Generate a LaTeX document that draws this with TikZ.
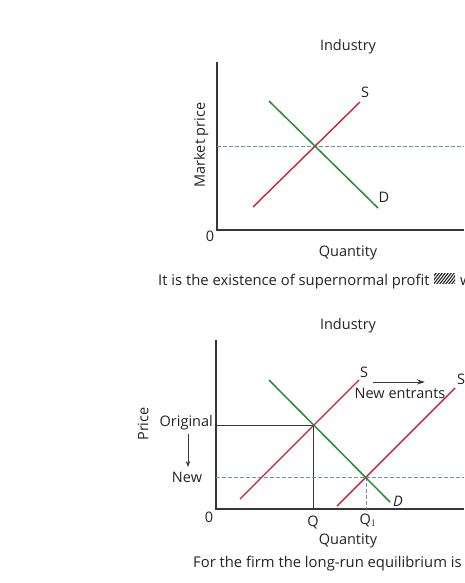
\documentclass[tikz,border=0pt]{standalone}
\usepackage{fontspec}
\setmainfont{Open Sans}
\usetikzlibrary{arrows.meta}
\definecolor{sred}{RGB}{200,35,50}
\definecolor{dgreen}{RGB}{35,140,55}
\definecolor{dashc}{RGB}{110,150,170}
\definecolor{axisc}{RGB}{55,55,55}
\definecolor{txt}{RGB}{35,35,35}
\begin{document}
\begin{tikzpicture}[x=1pt,y=-1pt,
  font=\fontsize{14.5}{16}\selectfont,
  axis/.style={axisc, line width=1.2pt},
  supply/.style={sred, line width=1.4pt},
  demand/.style={dgreen, line width=1.5pt},
  guide/.style={dashc, dash pattern=on 3.5pt off 2.5pt, line width=0.9pt},
  lbl/.style={inner sep=0pt, text=txt},
  caption/.style={lbl, anchor=base west, font=\fontsize{14.8}{16}\selectfont}]
\useasboundingbox (0,0) rectangle (464,583);
% ---------- top diagram ----------
\node[lbl] (ind1) at (348,47) {Industry};
\coordinate (yt1) at (217,62);
\coordinate (o1) at (217,230);
\coordinate (xr1) at (464,230);
\draw[axis] (yt1) -- (o1) -- (xr1);
\node[lbl] (zero1) at (210,236) {0};
\node[lbl, rotate=90] (mp) at (201,145) {Market price};
\coordinate (s1a) at (253,207);
\coordinate (s1b) at (360,102);
\coordinate (d1a) at (269,101);
\coordinate (d1b) at (378,208);
\coordinate (p1l) at (217,146.5);
\coordinate (p1r) at (464,146.5);
\draw[guide] (p1l) -- (p1r);
\draw[supply] (s1a) -- (s1b);
\draw[demand] (d1a) -- (d1b);
\node[lbl] (S1) at (365,92) {S};
\node[lbl] (D1) at (384,197) {D};
\node[lbl] (q1) at (348,253) {Quantity};
\node[caption] (cap1) at (158,285) {It is the existence of supernormal profit};
\begin{scope}
  \clip (434,273.5) rectangle (455,283.5);
  \foreach \k in {0,3,...,36} {
    \draw[txt, line width=1.1pt] (424+\k,285) -- (434+\k,272);
  }
\end{scope}
\node[caption] (w1) at (460,285) {w};
% ---------- bottom diagram ----------
\node[lbl] (ind2) at (348,326) {Industry};
\coordinate (yt2) at (216,340);
\coordinate (o2) at (216,509);
\coordinate (xr2) at (464,509);
\draw[axis] (yt2) -- (o2) -- (xr2);
\node[lbl] (zero2) at (209,517) {0};
\node[lbl, rotate=90] (pr) at (143,424) {Price};
\node[lbl, anchor=east] (orig) at (213,423) {Original};
\node[lbl] (new) at (187,477) {New};
\coordinate (dn1) at (188,434);
\coordinate (dn2) at (188,467);
\draw[axisc, line width=0.9pt, -{Stealth[length=6pt,width=4.5pt]}] (dn1) -- (dn2);
\coordinate (e1) at (313,425);
\coordinate (e2) at (366,477);
\draw[axisc, line width=1pt] (e1 -| o2) -- (e1) -- (e1 |- o2);
\draw[guide] (e2 -| o2) -- (464,477);
\draw[guide] (e2) -- (e2 |- o2);
\coordinate (sAa) at (240,499);
\coordinate (sAb) at (359,380);
\coordinate (sBa) at (337,506);
\coordinate (sBb) at (455,388);
\coordinate (d2a) at (269,380);
\coordinate (d2b) at (390,502);
\draw[supply] (sAa) -- (sAb);
\draw[supply] (sBa) -- (sBb);
\draw[demand] (d2a) -- (d2b);
\node[lbl] (SA) at (364,372) {S};
\node[lbl] (SB) at (461,379) {S};
\node[lbl] (D2) at (398,501) {\itshape D};
\coordinate (ar1) at (373,382);
\coordinate (ar2) at (425,382);
\draw[axisc, line width=1pt, -{Stealth[length=8pt,width=5pt]}] (ar1) -- (ar2);
\node[lbl] (ne) at (400,393) {New entrants};
\node[lbl] (Q) at (313,522) {Q};
\node[lbl] (Q1) at (368,520) {Q$_1$};
\node[lbl] (q2) at (348,541) {Quantity};
\node[caption] (cap2) at (193,567) {For the firm the long-run equilibrium is};
\end{tikzpicture}
\end{document}
